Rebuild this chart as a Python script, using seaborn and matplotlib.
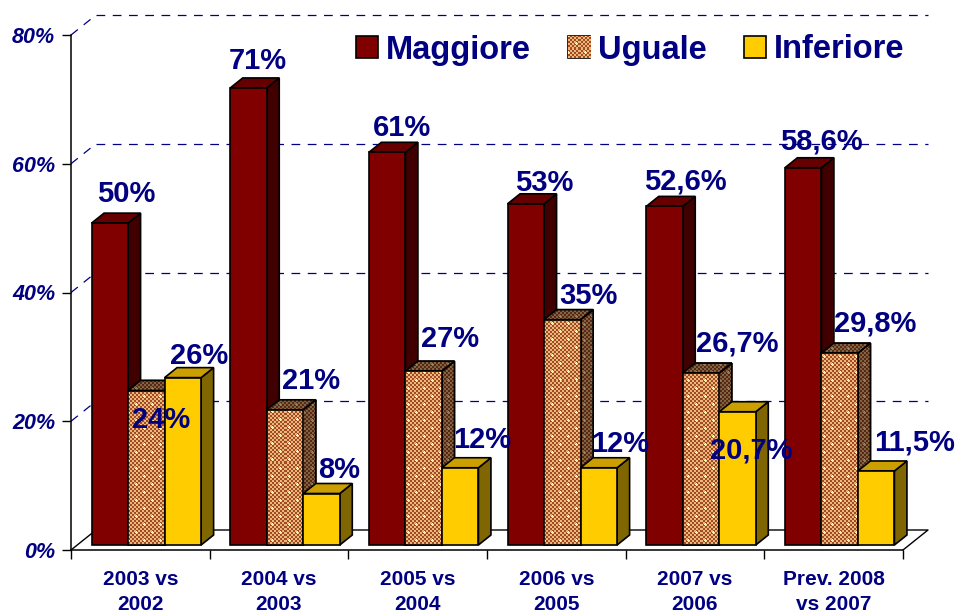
import matplotlib
matplotlib.use("Agg")
import matplotlib.pyplot as plt
from matplotlib.patches import Patch, Polygon
from matplotlib.transforms import Affine2D, IdentityTransform
import numpy as np
import pandas as pd
import seaborn as sns

periodi = ["2003 vs\n2002", "2004 vs\n2003", "2005 vs\n2004", "2006 vs\n2005", "2007 vs\n2006", "Prev. 2008\nvs 2007"]
serie = ["Maggiore", "Uguale", "Inferiore"]
maggiore = [50, 71, 61, 53, 52.6, 58.6]
uguale = [24, 21, 27, 35, 26.7, 29.8]
inferiore = [26, 8, 12, 12, 20.7, 11.5]
etichette_maggiore = ["50%", "71%", "61%", "53%", "52,6%", "58,6%"]
etichette_uguale = ["24%", "21%", "27%", "35%", "26,7%", "29,8%"]
etichette_inferiore = ["26%", "8%", "12%", "12%", "20,7%", "11,5%"]
tick_y = [0, 20, 40, 60, 80]

# label offsets from the top centre of each bar, in pixels
off_maggiore = [(16, 29), (9, 27), (15, 24), (18, 21), (21, 25), (18, 26)]
off_uguale = [(15, -29), (26, 29), (26, 32), (26, 24), (36, 30), (36, 30)]
off_inferiore = [(16, 22), (18, 23), (22, 28), (21, 24), (14, -39), (38, 28)]

NAVY = "#000080"
colori = {"Maggiore": "#800000", "Uguale": "#c08a55", "Inferiore": "#ffcc00"}
lati = {"Maggiore": "#400000", "Uguale": "#6b4a2c", "Inferiore": "#806600"}
tetti = {"Maggiore": "#660000", "Uguale": "#8a6238", "Inferiore": "#cc9f00"}

sns.set_theme(style="white")
plt.rcParams["font.family"] = ["Liberation Sans", "DejaVu Sans"]

W, H = 958, 614
fig = plt.figure(figsize=(W / 100, H / 100), dpi=100)
ax = fig.add_axes([71 / W, (H - 550) / H, (903 - 71) / W, (550 - 35) / H])

df = pd.DataFrame({
    "periodo": periodi * 3,
    "tipo": np.repeat(serie, len(periodi)),
    "valore": maggiore + uguale + inferiore,
})
sns.barplot(data=df, x="periodo", y="valore", hue="tipo", hue_order=serie, palette=colori,
            width=0.79, gap=0, saturation=1, edgecolor="black", linewidth=1.2, legend=False, ax=ax)
ax.set_xlim(-0.5, 5.5)
ax.set_ylim(0, 80)
ax.set_xlabel("")
ax.set_ylabel("")
sns.despine(ax=ax)
ax.patch.set_alpha(0)
for s in ["left", "bottom"]:
    ax.spines[s].set_color("black")
    ax.spines[s].set_linewidth(1.1)

ax.set_yticks(tick_y, [f"{t}%" for t in tick_y])
ax.tick_params(axis="y", length=6.5, width=1, color="black", left=True, pad=5,
               labelsize=15.5, labelcolor=NAVY)
for lab in ax.get_yticklabels():
    lab.set_fontweight("bold")
    lab.set_fontstyle("italic")
ax.set_xticks(np.arange(6))
ax.set_xticklabels(periodi, fontsize=15, fontweight="bold", color=NAVY, linespacing=1.4)
ax.set_xticks(np.arange(-0.5, 6), minor=True)
ax.tick_params(axis="x", which="major", length=0, pad=14.5)
ax.tick_params(axis="x", which="minor", length=6.5, width=1, color="black", bottom=True)

# back wall and floor of the fake 3D box
DX, DY = 25, 20
back = ax.transData + Affine2D().translate(DX, DY)
for t in tick_y[1:]:
    ax.plot([-0.5, 5.5], [t, t], transform=back, color=NAVY, lw=0.9, ls=(0, (7, 6)), clip_on=False, zorder=1)
    x0, y0 = ax.transData.transform((-0.5, t))
    ax.plot([x0, x0 + DX], [y0, y0 + DY], transform=IdentityTransform(), color=NAVY, lw=0.9,
            ls=(0, (7, 6)), clip_on=False, zorder=1)
x0, y0 = ax.transData.transform((-0.5, 0))
x1, y1 = ax.transData.transform((5.5, 0))
ax.plot([x0, x0 + DX, x1 + DX, x1], [y0, y0 + DY, y1 + DY, y1], transform=IdentityTransform(),
        color="black", lw=1, clip_on=False, zorder=1)

# checker texture with light sparkles for the Uguale series
yy, xx = np.mgrid[0:H, 0:W]
trama = np.zeros((H, W, 3))
chiaro = ((xx // 2 + yy // 2) % 2 == 0)
trama[chiaro] = np.array([232, 186, 118]) / 255
trama[~chiaro] = np.array([165, 72, 42]) / 255
riga = yy // 8
punto = ((yy % 8) == 4) & (((xx + riga * 8) % 16) == 8)
croce = punto | np.roll(punto, 1, axis=0) | np.roll(punto, -1, axis=0) | np.roll(punto, 1, axis=1) | np.roll(punto, -1, axis=1)
trama[croce] = np.array([255, 248, 170]) / 255
trama_scura = trama * 0.55


def riempi(patch, tex, z):
    im = ax.imshow(tex, extent=(0, 1, 0, 1), transform=fig.transFigure, aspect="auto",
                   interpolation="nearest", zorder=z)
    im.set_clip_box(fig.bbox)
    im.set_clip_path(patch)
    return im


# move the bars off the front edge and give them a top and a side
FX, FY = 6, 5
PX, PY = 12.5, 10
fronte = ax.transData + Affine2D().translate(FX, FY)
etichette = [etichette_maggiore, etichette_uguale, etichette_inferiore]
offset = [off_maggiore, off_uguale, off_inferiore]
barre = []
for j, cont in enumerate(ax.containers):
    for i, bar in enumerate(cont):
        barre.append((i, j, bar))
barre.sort(key=lambda b: (b[0], b[1]))

for n, (i, j, bar) in enumerate(barre):
    nome = serie[j]
    z = 2 + n * 0.15
    bar.set_transform(fronte)
    bar.set_clip_on(False)
    bar.set_zorder(z + 0.05)
    (xa, ya) = fronte.transform((bar.get_x(), 0))
    (xb, yb) = fronte.transform((bar.get_x() + bar.get_width(), bar.get_height()))
    lato = Polygon([(xb, ya), (xb + PX, ya + PY), (xb + PX, yb + PY), (xb, yb)], closed=True,
                   transform=IdentityTransform(), fc=lati[nome], ec="black", lw=1.2, clip_on=False, zorder=z)
    tetto = Polygon([(xa, yb), (xa + PX, yb + PY), (xb + PX, yb + PY), (xb, yb)], closed=True,
                    transform=IdentityTransform(), fc=tetti[nome], ec="black", lw=1.2, clip_on=False, zorder=z)
    ax.add_patch(lato)
    ax.add_patch(tetto)
    if nome == "Uguale":
        riempi(lato, trama_scura, z + 0.01)
        riempi(tetto, trama_scura, z + 0.01)
        riempi(bar, trama, z + 0.06)
        for poli in (lato, tetto):
            ax.add_patch(Polygon(poli.get_xy(), closed=True, transform=IdentityTransform(), fc="none",
                                 ec="black", lw=1.2, clip_on=False, zorder=z + 0.02))
        ax.add_patch(Polygon([(xa, ya), (xb, ya), (xb, yb), (xa, yb)], closed=True, transform=IdentityTransform(),
                             fc="none", ec="black", lw=1.2, clip_on=False, zorder=z + 0.07))
    dx, dy = offset[j][i]
    ax.text((xa + xb) / 2 + dx, yb + dy, etichette[j][i], transform=IdentityTransform(), ha="center",
            va="center", fontsize=21, fontweight="bold", color=NAVY, zorder=20, clip_on=False)

maniglie = [Patch(fc=colori[s], ec="black", lw=1.2, label=s) for s in serie]
leg = ax.legend(handles=maniglie, ncols=3, loc="center left", bbox_to_anchor=(356 / W, (H - 50) / H),
                bbox_transform=fig.transFigure, frameon=False, borderpad=0, borderaxespad=0,
                handlelength=0.68, handleheight=0.68, handletextpad=0.25, columnspacing=1.12,
                prop={"size": 23.5, "weight": "bold"}, labelcolor=NAVY)
leg.set_zorder(15)
fig.canvas.draw()
riempi(leg.get_patches()[1], trama, 16)

fig.savefig("out.png", dpi=100)
